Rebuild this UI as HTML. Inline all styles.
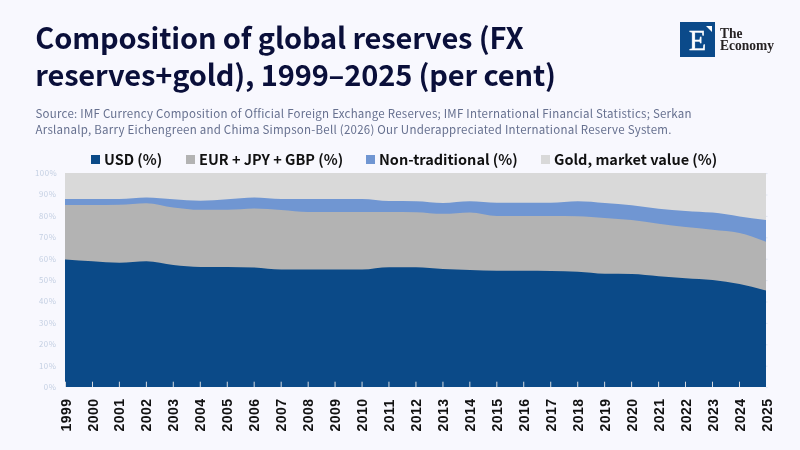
<!DOCTYPE html>
<html lang="en"><head><meta charset="utf-8"><title>Composition of global reserves</title>
<style>
html,body{margin:0;padding:0}
body{width:800px;height:450px;background:#f8f8fe;overflow:hidden;position:relative;font-family:"Noto Sans CJK SC","Liberation Sans",sans-serif}
.title{position:absolute;left:35.3px;top:18px;margin:0;font-size:29px;line-height:37px;font-weight:700;color:#0a0f3a;white-space:nowrap;letter-spacing:-0.15px}
.src{position:absolute;left:35.5px;top:104.5px;margin:0;font-size:11.5px;line-height:16px;color:#66708f;white-space:nowrap;letter-spacing:0.24px}
.legend{position:absolute;left:0;top:148.5px;height:20px;width:800px}
.li{position:absolute;top:0;font-size:14.5px;font-weight:700;color:#111;line-height:20px;white-space:nowrap}
.sw{position:absolute;top:6.6px;width:9px;height:9px}
.logo{position:absolute;left:680px;top:22px;width:35px;height:35px;background:#0b4a8a}
.logo span{position:absolute;left:8.6px;top:3.4px;font-family:"Liberation Serif",serif;font-weight:400;font-size:29px;line-height:30px;color:#fff;-webkit-text-stroke:0.5px #fff;transform:scaleX(0.97);transform-origin:0 0}
.logo i{position:absolute;right:2.8px;top:3.6px;width:0;height:0;border-top:6.3px solid #fff;border-left:6.3px solid transparent}
.brand{position:absolute;left:720px;top:28.3px;font-family:"Liberation Serif",serif;font-weight:700;font-size:13.5px;line-height:11px;letter-spacing:0;color:#262223;transform:scaleY(1.04);transform-origin:0 0}
svg{position:absolute;left:0;top:0}
.yl{font-family:"Noto Sans CJK SC","Liberation Sans",sans-serif;font-size:7.8px;fill:#c3cfe2;text-anchor:end;letter-spacing:0.55px}
.xl{font-family:"Liberation Sans",sans-serif;font-size:14px;font-weight:700;fill:#111;letter-spacing:0.45px}
</style></head><body>
<h1 class="title">Composition of global reserves (FX<br>reserves+gold), 1999–2025 (per cent)</h1>
<p class="src">Source: IMF Currency Composition of Official Foreign Exchange Reserves; IMF International Financial Statistics; Serkan<br>Arslanalp, Barry Eichengreen and Chima Simpson-Bell (2026) Our Underappreciated International Reserve System.</p>
<div class="logo"><span>E</span><i></i></div>
<div class="brand">The<br>Economy</div>
<div class="legend">
<span class="sw" style="left:91px;background:#0b4a88"></span><span class="li" style="left:104px">USD (%)</span>
<span class="sw" style="left:186px;background:#b3b3b3"></span><span class="li" style="left:199px">EUR + JPY + GBP (%)</span>
<span class="sw" style="left:366px;background:#7096d2"></span><span class="li" style="left:379px">Non-traditional (%)</span>
<span class="sw" style="left:541px;background:#d9d9d9"></span><span class="li" style="left:554px">Gold, market value (%)</span>
</div>
<svg width="800" height="450" viewBox="0 0 800 450">
<rect x="65.0" y="173.0" width="701.0" height="214.0" fill="#d9d9d9"/>
<clipPath id="cp"><rect x="65.0" y="173.0" width="701.0" height="214.0"/></clipPath>
<g clip-path="url(#cp)">
<path d="M65.50,199.00C74.49,199.00 83.47,199.00 92.46,199.00C101.45,199.00 110.44,199.00 119.42,199.00C128.41,199.00 137.40,197.50 146.38,197.50C155.37,197.50 164.36,198.77 173.35,199.32C182.33,199.87 191.32,200.82 200.31,200.82C209.29,200.82 218.28,199.87 227.27,199.32C236.26,198.77 245.24,197.50 254.23,197.50C263.22,197.50 272.21,199.00 281.19,199.00C290.18,199.00 299.17,199.00 308.15,199.00C317.14,199.00 326.13,199.00 335.12,199.00C344.10,199.00 353.09,199.00 362.08,199.00C371.06,199.00 380.05,200.89 389.04,201.03C398.03,201.18 407.01,201.11 416.00,201.25C424.99,201.39 433.97,202.96 442.96,202.96C451.95,202.96 460.94,201.25 469.92,201.25C478.91,201.25 487.90,202.75 496.88,202.75C505.87,202.75 514.86,202.75 523.85,202.75C532.83,202.75 541.82,202.75 550.81,202.75C559.79,202.75 568.78,201.25 577.77,201.25C586.76,201.25 595.74,202.28 604.73,202.96C613.72,203.64 622.71,204.35 631.69,205.31C640.68,206.28 649.67,207.81 658.65,208.74C667.64,209.67 676.63,210.24 685.62,210.88C694.60,211.52 703.59,211.66 712.58,212.59C721.56,213.52 730.55,215.19 739.54,216.44C748.53,217.69 757.51,218.89 766.50,220.08L768.50,220.08L768.50,387.00L63.50,387.00L63.50,199.00Z" fill="#7096d2"/>
<path d="M65.50,204.99C74.49,204.99 83.47,204.99 92.46,204.99C101.45,204.99 110.44,204.89 119.42,204.67C128.41,204.46 137.40,203.17 146.38,203.17C155.37,203.17 164.36,206.35 173.35,207.45C182.33,208.56 191.32,209.81 200.31,209.81C209.29,209.81 218.28,209.81 227.27,209.81C236.26,209.81 245.24,208.52 254.23,208.52C263.22,208.52 272.21,209.45 281.19,210.02C290.18,210.59 299.17,211.95 308.15,211.95C317.14,211.95 326.13,211.95 335.12,211.95C344.10,211.95 353.09,211.95 362.08,211.95C371.06,211.95 380.05,211.95 389.04,211.95C398.03,211.95 407.01,212.02 416.00,212.16C424.99,212.30 433.97,213.87 442.96,213.87C451.95,213.87 460.94,212.48 469.92,212.48C478.91,212.48 487.90,216.01 496.88,216.01C505.87,216.01 514.86,216.01 523.85,216.01C532.83,216.01 541.82,216.01 550.81,216.01C559.79,216.01 568.78,216.09 577.77,216.23C586.76,216.37 595.74,217.30 604.73,217.94C613.72,218.58 622.71,219.12 631.69,220.08C640.68,221.04 649.67,222.56 658.65,223.72C667.64,224.88 676.63,226.04 685.62,227.03C694.60,228.03 703.59,228.73 712.58,229.71C721.56,230.69 730.55,230.89 739.54,232.92C748.53,234.95 757.51,238.43 766.50,241.91L768.50,241.91L768.50,387.00L63.50,387.00L63.50,204.99Z" fill="#b3b3b3"/>
<path d="M65.50,259.46C74.49,260.09 83.47,260.72 92.46,261.27C101.45,261.83 110.44,262.77 119.42,262.77C128.41,262.77 137.40,261.27 146.38,261.27C155.37,261.27 164.36,264.07 173.35,265.02C182.33,265.97 191.32,266.95 200.31,266.95C209.29,266.95 218.28,266.95 227.27,266.95C236.26,266.95 245.24,267.12 254.23,267.48C263.22,267.84 272.21,269.51 281.19,269.51C290.18,269.51 299.17,269.51 308.15,269.51C317.14,269.51 326.13,269.51 335.12,269.51C344.10,269.51 353.09,269.51 362.08,269.51C371.06,269.51 380.05,267.27 389.04,267.27C398.03,267.27 407.01,267.27 416.00,267.27C424.99,267.27 433.97,268.62 442.96,269.09C451.95,269.55 460.94,269.76 469.92,270.05C478.91,270.33 487.90,270.80 496.88,270.80C505.87,270.80 514.86,270.80 523.85,270.80C532.83,270.80 541.82,270.87 550.81,271.01C559.79,271.15 568.78,271.40 577.77,271.87C586.76,272.33 595.74,273.65 604.73,273.79C613.72,273.94 622.71,273.87 631.69,274.01C640.68,274.15 649.67,275.54 658.65,276.25C667.64,276.97 676.63,277.66 685.62,278.29C694.60,278.91 703.59,279.04 712.58,280.00C721.56,280.96 730.55,282.30 739.54,284.07C748.53,285.83 757.51,288.21 766.50,290.59L768.50,290.59L768.50,387.00L63.50,387.00L63.50,259.46Z" fill="#0b4a88"/>
<rect x="65.0" y="381.7" width="0.9" height="5.3" fill="#ece9e8"/><rect x="92.0" y="381.7" width="0.9" height="5.3" fill="#ece9e8"/><rect x="118.9" y="381.7" width="0.9" height="5.3" fill="#ece9e8"/><rect x="145.9" y="381.7" width="0.9" height="5.3" fill="#ece9e8"/><rect x="172.8" y="381.7" width="0.9" height="5.3" fill="#ece9e8"/><rect x="199.8" y="381.7" width="0.9" height="5.3" fill="#ece9e8"/><rect x="226.8" y="381.7" width="0.9" height="5.3" fill="#ece9e8"/><rect x="253.7" y="381.7" width="0.9" height="5.3" fill="#ece9e8"/><rect x="280.7" y="381.7" width="0.9" height="5.3" fill="#ece9e8"/><rect x="307.7" y="381.7" width="0.9" height="5.3" fill="#ece9e8"/><rect x="334.6" y="381.7" width="0.9" height="5.3" fill="#ece9e8"/><rect x="361.6" y="381.7" width="0.9" height="5.3" fill="#ece9e8"/><rect x="388.5" y="381.7" width="0.9" height="5.3" fill="#ece9e8"/><rect x="415.5" y="381.7" width="0.9" height="5.3" fill="#ece9e8"/><rect x="442.5" y="381.7" width="0.9" height="5.3" fill="#ece9e8"/><rect x="469.4" y="381.7" width="0.9" height="5.3" fill="#ece9e8"/><rect x="496.4" y="381.7" width="0.9" height="5.3" fill="#ece9e8"/><rect x="523.3" y="381.7" width="0.9" height="5.3" fill="#ece9e8"/><rect x="550.3" y="381.7" width="0.9" height="5.3" fill="#ece9e8"/><rect x="577.3" y="381.7" width="0.9" height="5.3" fill="#ece9e8"/><rect x="604.2" y="381.7" width="0.9" height="5.3" fill="#ece9e8"/><rect x="631.2" y="381.7" width="0.9" height="5.3" fill="#ece9e8"/><rect x="658.2" y="381.7" width="0.9" height="5.3" fill="#ece9e8"/><rect x="685.1" y="381.7" width="0.9" height="5.3" fill="#ece9e8"/><rect x="712.1" y="381.7" width="0.9" height="5.3" fill="#ece9e8"/><rect x="739.0" y="381.7" width="0.9" height="5.3" fill="#ece9e8"/><rect x="766.0" y="381.7" width="0.9" height="5.3" fill="#ece9e8"/>
</g>
<rect x="766" y="387.1" width="1.5" height="1" fill="#dfe5f2"/><rect x="766" y="365.7" width="1.5" height="1" fill="#dfe5f2"/><rect x="766" y="344.3" width="1.5" height="1" fill="#dfe5f2"/><rect x="766" y="322.9" width="1.5" height="1" fill="#dfe5f2"/><rect x="766" y="301.5" width="1.5" height="1" fill="#dfe5f2"/><rect x="766" y="280.1" width="1.5" height="1" fill="#dfe5f2"/><rect x="766" y="258.7" width="1.5" height="1" fill="#dfe5f2"/><rect x="766" y="237.3" width="1.5" height="1" fill="#dfe5f2"/><rect x="766" y="215.9" width="1.5" height="1" fill="#dfe5f2"/><rect x="766" y="194.5" width="1.5" height="1" fill="#dfe5f2"/><rect x="766" y="173.1" width="1.5" height="1" fill="#dfe5f2"/>
<text x="56.4" y="390.0" class="yl">0%</text><text x="56.4" y="368.6" class="yl">10%</text><text x="56.4" y="347.2" class="yl">20%</text><text x="56.4" y="325.8" class="yl">30%</text><text x="56.4" y="304.4" class="yl">40%</text><text x="56.4" y="283.0" class="yl">50%</text><text x="56.4" y="261.6" class="yl">60%</text><text x="56.4" y="240.2" class="yl">70%</text><text x="56.4" y="218.8" class="yl">80%</text><text x="56.4" y="197.4" class="yl">90%</text><text x="57.3" y="176.0" class="yl">100%</text>
<text class="xl" transform="translate(70.5,431.5) rotate(-90)">1999</text><text class="xl" transform="translate(97.5,431.5) rotate(-90)">2000</text><text class="xl" transform="translate(124.4,431.5) rotate(-90)">2001</text><text class="xl" transform="translate(151.4,431.5) rotate(-90)">2002</text><text class="xl" transform="translate(178.3,431.5) rotate(-90)">2003</text><text class="xl" transform="translate(205.3,431.5) rotate(-90)">2004</text><text class="xl" transform="translate(232.3,431.5) rotate(-90)">2005</text><text class="xl" transform="translate(259.2,431.5) rotate(-90)">2006</text><text class="xl" transform="translate(286.2,431.5) rotate(-90)">2007</text><text class="xl" transform="translate(313.2,431.5) rotate(-90)">2008</text><text class="xl" transform="translate(340.1,431.5) rotate(-90)">2009</text><text class="xl" transform="translate(367.1,431.5) rotate(-90)">2010</text><text class="xl" transform="translate(394.0,431.5) rotate(-90)">2011</text><text class="xl" transform="translate(421.0,431.5) rotate(-90)">2012</text><text class="xl" transform="translate(448.0,431.5) rotate(-90)">2013</text><text class="xl" transform="translate(474.9,431.5) rotate(-90)">2014</text><text class="xl" transform="translate(501.9,431.5) rotate(-90)">2015</text><text class="xl" transform="translate(528.8,431.5) rotate(-90)">2016</text><text class="xl" transform="translate(555.8,431.5) rotate(-90)">2017</text><text class="xl" transform="translate(582.8,431.5) rotate(-90)">2018</text><text class="xl" transform="translate(609.7,431.5) rotate(-90)">2019</text><text class="xl" transform="translate(636.7,431.5) rotate(-90)">2020</text><text class="xl" transform="translate(663.7,431.5) rotate(-90)">2021</text><text class="xl" transform="translate(690.6,431.5) rotate(-90)">2022</text><text class="xl" transform="translate(717.6,431.5) rotate(-90)">2023</text><text class="xl" transform="translate(744.5,431.5) rotate(-90)">2024</text><text class="xl" transform="translate(771.5,431.5) rotate(-90)">2025</text>
</svg>
</body></html>
